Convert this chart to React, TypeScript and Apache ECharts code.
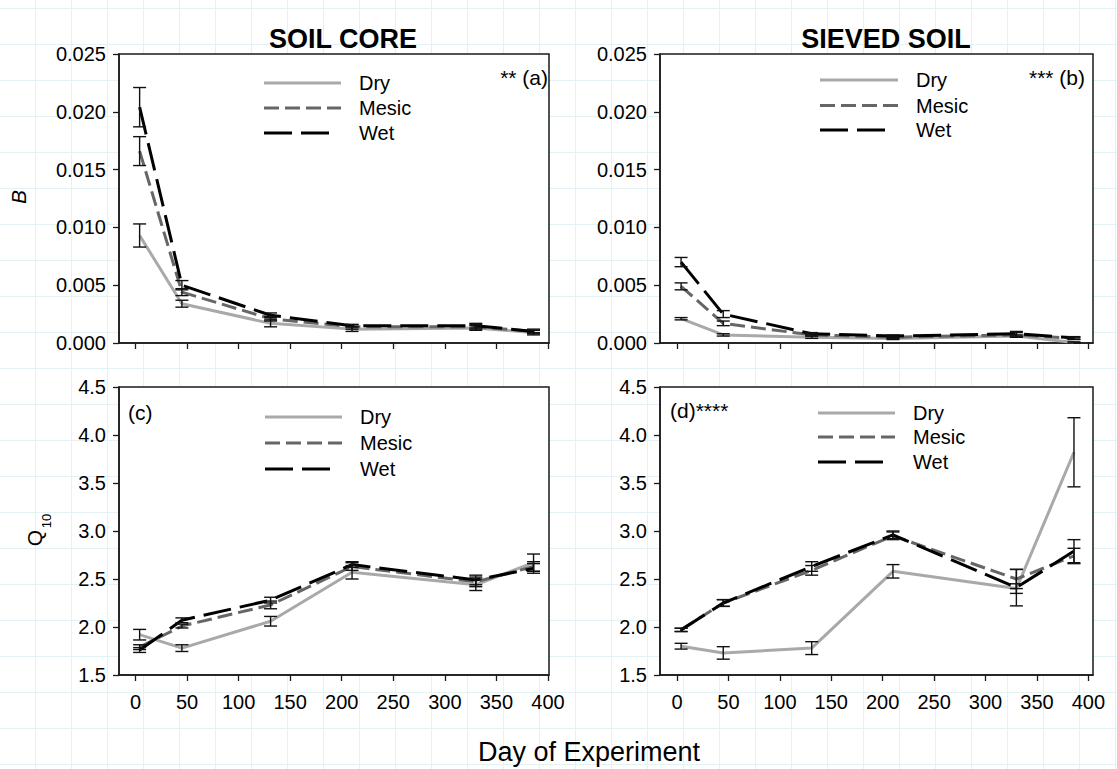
import React, { useEffect, useRef } from "react";
import * as echarts from "echarts";

// ---------- data ----------
const days = [4, 45, 131, 210, 330, 386];
const xTicks = [0, 50, 100, 150, 200, 250, 300, 350, 400];

// (a) B, soil core
const aDry = [0.0093, 0.0034, 0.0017, 0.0012, 0.0013, 0.0009];
const aDryErr = [0.001, 0.0003, 0.0003, 0.0002, 0.0002, 0.0002];
const aMesic = [0.0166, 0.0044, 0.0021, 0.0014, 0.0014, 0.001];
const aMesicErr = [0.00125, 0.0003, 0.0002, 0.0002, 0.0002, 0.0002];
const aWet = [0.0204, 0.005, 0.0024, 0.0015, 0.0015, 0.001];
const aWetErr = [0.0017, 0.0004, 0.0002, 0.0001, 0.0002, 0.0001];

// (b) B, sieved soil
const bDry = [0.0021, 0.0007, 0.0005, 0.0004, 0.0006, 0.00005];
const bDryErr = [0.0001, 0.0001, 0.0001, 0.0001, 0.0001, 0.00005];
const bMesic = [0.0049, 0.0017, 0.0007, 0.0005, 0.0007, 0.0004];
const bMesicErr = [0.0003, 0.0002, 0.0001, 0.0001, 0.0002, 0.0001];
const bWet = [0.007, 0.0025, 0.0008, 0.0006, 0.0008, 0.00045];
const bWetErr = [0.0004, 0.0003, 0.0001, 0.0001, 0.0002, 0.0001];

// (c) Q10, soil core
const cDry = [1.92, 1.78, 2.06, 2.57, 2.44, 2.67];
const cDryErr = [0.055, 0.035, 0.05, 0.07, 0.06, 0.09];
const cMesic = [1.79, 2.01, 2.23, 2.63, 2.47, 2.63];
const cMesicErr = [0.025, 0.02, 0.04, 0.04, 0.05, 0.05];
const cWet = [1.76, 2.07, 2.28, 2.65, 2.49, 2.61];
const cWetErr = [0.025, 0.025, 0.03, 0.03, 0.05, 0.05];

// (d) Q10, sieved soil
const dDry = [1.8, 1.73, 1.78, 2.58, 2.4, 3.82];
const dDryErr = [0.03, 0.065, 0.067, 0.07, 0.05, 0.36];
const dMesic = [1.97, 2.25, 2.59, 2.95, 2.5, 2.74];
const dMesicErr = [0.017, 0.035, 0.05, 0.04, 0.1, 0.08];
const dWet = [1.97, 2.25, 2.63, 2.96, 2.41, 2.79];
const dWetErr = [0.017, 0.035, 0.05, 0.04, 0.19, 0.12];

const legendNames = ["Dry", "Mesic", "Wet"];
const panelTags = ["** (a)", "*** (b)", "(c)", "(d)****"];
const titles = ["SOIL CORE", "SIEVED SOIL"];

// ---------- styles ----------
const FONT = "'Liberation Sans', Arial, Helvetica, sans-serif";
const COLORS = ["#a9a9a9", "#666666", "#000000"];
const DASHES: any[] = ["solid", [15, 6], [28, 9]];

const panels = [
  { vals: [aDry, aMesic, aWet], errs: [aDryErr, aMesicErr, aWetErr], grid: { left: 119, top: 54, width: 430, height: 289 }, xmin: -16, xmax: 401, ymin: 0, ymax: 0.025, yint: 0.005, dec: 3, xLabels: false },
  { vals: [bDry, bMesic, bWet], errs: [bDryErr, bMesicErr, bWetErr], grid: { left: 660, top: 54, width: 433, height: 289 }, xmin: -16.5, xmax: 404.5, ymin: 0, ymax: 0.025, yint: 0.005, dec: 3, xLabels: false },
  { vals: [cDry, cMesic, cWet], errs: [cDryErr, cMesicErr, cWetErr], grid: { left: 119, top: 387, width: 430, height: 288 }, xmin: -16, xmax: 401, ymin: 1.5, ymax: 4.5, yint: 0.5, dec: 1, xLabels: true },
  { vals: [dDry, dMesic, dWet], errs: [dDryErr, dMesicErr, dWetErr], grid: { left: 660, top: 387, width: 433, height: 288 }, xmin: -16.5, xmax: 404.5, ymin: 1.5, ymax: 4.5, yint: 0.5, dec: 1, xLabels: true },
];

const legendPos = [
  { x1: 264, x2: 341, tx: 359, ys: [83, 108, 133] },
  { x1: 820, x2: 898, tx: 916, ys: [80, 105.5, 130] },
  { x1: 265, x2: 342, tx: 360, ys: [417, 443, 469] },
  { x1: 818, x2: 895, tx: 913, ys: [413, 437, 462] },
];

const tagPos = [
  { x: 548, y: 77, align: "right" },
  { x: 1085, y: 77, align: "right" },
  { x: 128, y: 412, align: "left" },
  { x: 670, y: 410, align: "left" },
];

function buildOption() {
  const grid: any[] = [];
  const xAxis: any[] = [];
  const yAxis: any[] = [];
  const series: any[] = [];
  const graphic: any[] = [];

  panels.forEach((p, i) => {
    grid.push({ ...p.grid, show: true, backgroundColor: "#ffffff", borderColor: "#1a1a1a", borderWidth: 1.5 });
    xAxis.push({
      type: "value",
      gridIndex: i,
      min: p.xmin,
      max: p.xmax,
      axisLine: { show: true, onZero: false, lineStyle: { color: "#1a1a1a", width: 1.5 } },
      axisTick: { show: true, inside: false, length: 6, customValues: xTicks, lineStyle: { color: "#1a1a1a", width: 1.3 } },
      axisLabel: {
        show: p.xLabels,
        customValues: xTicks,
        fontSize: 20,
        fontFamily: FONT,
        color: "#000",
        margin: 17,
      },
      splitLine: { show: false },
    });
    yAxis.push({
      type: "value",
      gridIndex: i,
      min: p.ymin,
      max: p.ymax,
      interval: p.yint,
      axisLine: { show: true, onZero: false, lineStyle: { color: "#1a1a1a", width: 1.5 } },
      axisTick: { show: true, inside: false, length: 6, lineStyle: { color: "#1a1a1a", width: 1.3 } },
      axisLabel: {
        fontSize: 20,
        fontFamily: FONT,
        color: "#000",
        margin: 13,
        formatter: (v: number) => v.toFixed(p.dec),
      },
      splitLine: { show: false },
    });

    const errData: number[][] = [];
    p.vals.forEach((vals, k) => {
      series.push({
        type: "line",
        name: legendNames[k],
        xAxisIndex: i,
        yAxisIndex: i,
        data: days.map((d, j) => [d, vals[j]]),
        symbol: "none",
        showSymbol: false,
        z: 2 + k,
        lineStyle: { color: COLORS[k], width: 3, type: DASHES[k] },
      });
      days.forEach((d, j) => {
        errData.push([d, vals[j] - p.errs[k][j], vals[j] + p.errs[k][j]]);
      });
    });
    series.push({
      type: "custom",
      xAxisIndex: i,
      yAxisIndex: i,
      z: 10,
      encode: { x: 0, y: [1, 2] },
      data: errData,
      renderItem: (params: any, api: any) => {
        const x = api.value(0);
        const lo = api.coord([x, api.value(1)]);
        const hi = api.coord([x, api.value(2)]);
        const hw = 6.5;
        const st = { stroke: "#111", lineWidth: 1.4 };
        return {
          type: "group",
          children: [
            { type: "line", shape: { x1: lo[0], y1: lo[1], x2: hi[0], y2: hi[1] }, style: st },
            { type: "line", shape: { x1: lo[0] - hw, y1: lo[1], x2: lo[0] + hw, y2: lo[1] }, style: st },
            { type: "line", shape: { x1: hi[0] - hw, y1: hi[1], x2: hi[0] + hw, y2: hi[1] }, style: st },
          ],
        };
      },
    });

    // legend
    const lp = legendPos[i];
    legendNames.forEach((name, k) => {
      const len = k === 2 ? 65 : lp.x2 - lp.x1;
      graphic.push({
        type: "line",
        shape: { x1: lp.x1, y1: lp.ys[k], x2: lp.x1 + len, y2: lp.ys[k] },
        style: { stroke: COLORS[k], lineWidth: 3, lineDash: k === 0 ? null : DASHES[k] },
        z: 20,
      });
      graphic.push({
        type: "text",
        x: lp.tx,
        y: lp.ys[k],
        z: 20,
        style: { text: name, fontSize: 20, fontFamily: FONT, fill: "#000", align: "left", verticalAlign: "middle" },
      });
    });

    // panel tag
    const tp = tagPos[i];
    graphic.push({
      type: "text",
      x: tp.x,
      y: tp.y,
      z: 20,
      style: { text: panelTags[i], fontSize: 21, fontFamily: FONT, fill: "#000", align: tp.align, verticalAlign: "middle" },
    });
  });

  // titles
  graphic.push({
    type: "text", x: 343, y: 39, z: 20,
    style: { text: titles[0], fontSize: 27, fontWeight: "bold", fontFamily: FONT, fill: "#000", align: "center", verticalAlign: "middle" },
  });
  graphic.push({
    type: "text", x: 886, y: 39, z: 20,
    style: { text: titles[1], fontSize: 27, fontWeight: "bold", fontFamily: FONT, fill: "#000", align: "center", verticalAlign: "middle" },
  });

  // axis names
  graphic.push({
    type: "text", x: 18, y: 197, rotation: Math.PI / 2, z: 20,
    style: { text: "B", fontSize: 21, fontStyle: "italic", fontFamily: FONT, fill: "#000", align: "center", verticalAlign: "middle" },
  });
  graphic.push({
    type: "text", x: 34, y: 538, rotation: Math.PI / 2, z: 20,
    style: { text: "Q", fontSize: 21, fontFamily: FONT, fill: "#000", align: "center", verticalAlign: "middle" },
  });
  graphic.push({
    type: "text", x: 46, y: 521, rotation: Math.PI / 2, z: 20,
    style: { text: "10", fontSize: 13, fontFamily: FONT, fill: "#000", align: "center", verticalAlign: "middle" },
  });
  graphic.push({
    type: "text", x: 589, y: 752, z: 20,
    style: { text: "Day of Experiment", fontSize: 27, fontFamily: FONT, fill: "#000", align: "center", verticalAlign: "middle" },
  });

  return {
    animation: false,
    backgroundColor: "transparent",
    grid,
    xAxis,
    yAxis,
    series,
    graphic: { elements: graphic },
  };
}

export default function App() {
  const ref = useRef<HTMLDivElement>(null);
  useEffect(() => {
    if (!ref.current) return;
    const chart = echarts.init(ref.current, null, { renderer: "svg" });
    chart.setOption(buildOption() as any);
    return () => chart.dispose();
  }, []);
  return (
    <div
      ref={ref}
      style={{
        position: "fixed",
        left: 0,
        top: 0,
        width: 1117,
        height: 769,
        backgroundColor: "#ffffff",
        backgroundImage:
          "linear-gradient(to right, #e3f3f5 1px, transparent 1px), linear-gradient(to bottom, #e3f3f5 1px, transparent 1px)",
        backgroundSize: "36px 36px",
        backgroundPosition: "35px 8px",
      }}
    />
  );
}
